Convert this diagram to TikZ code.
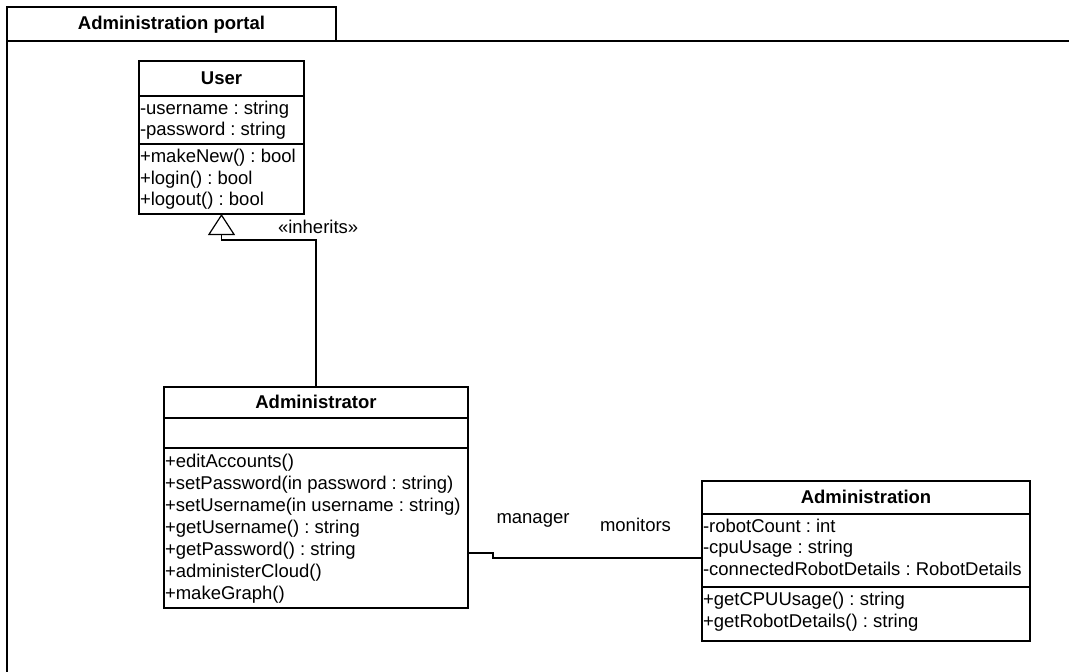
\documentclass[tikz,border=0pt]{standalone}
\usepackage{fontspec}
\setmainfont{Liberation Sans}
\usetikzlibrary{arrows.meta}
\frenchspacing

\begin{document}
\begin{tikzpicture}[x=0.5pt,y=-0.5pt,
  every node/.style={font=\fontsize{9.25}{10.9}\selectfont\frenchspacing, inner sep=0pt, outer sep=0pt},
  frameline/.style={line width=0.9pt},
  compartment/.style={draw, line width=0.8pt, rectangle, anchor=north west},
  classtitle/.style={anchor=base, font=\fontsize{9.25}{10.9}\selectfont\bfseries},
  member/.style={anchor=base west},
  connector/.style={line width=0.6pt},
  inherit/.style={connector, -{Triangle[open, length=10.5pt, width=13.5pt, line width=0.6pt]}},
  assoclabel/.style={anchor=base}
]
\useasboundingbox (0,0) rectangle (1069,671);

% package frame with its name tab
\node[draw, frameline, anchor=north west, minimum width=164.5pt, minimum height=17pt] (tab) at (7,7) {};
\node[classtitle] (tab-label) at (171.5,29) {Administration portal};
\draw[frameline] (7,680) -- (7,41) -- (1080,41);

% class User
\node[compartment, minimum width=82.5pt, minimum height=17.5pt] (user-name) at (139,61) {};
\node[compartment, minimum width=82.5pt, minimum height=24pt] (user-attrs) at (139,96) {};
\node[compartment, minimum width=82.5pt, minimum height=35pt] (user-ops) at (139,144) {};
\node[classtitle] (user-t) at (221.5,84.5) {User};
\node[member] (user-a1) at (140,114) {-username : string};
\node[member] (user-a2) at (140,135.8) {-password : string};
\node[member] (user-o1) at (140,162.3) {+makeNew() : bool};
\node[member] (user-o2) at (140,184.1) {+login() : bool};
\node[member] (user-o3) at (140,205.9) {+logout() : bool};

% class Administrator
\node[compartment, minimum width=152pt, minimum height=15.5pt] (admin-name) at (164,387) {};
\node[compartment, minimum width=152pt, minimum height=15pt] (admin-attrs) at (164,418) {};
\node[compartment, minimum width=152pt, minimum height=80pt] (admin-ops) at (164,448) {};
\node[classtitle] (admin-t) at (316,408.5) {Administrator};
\node[member] (admin-o1) at (165,467.5) {+editAccounts()};
\node[member] (admin-o2) at (165,489.4) {+setPassword(in password : string)};
\node[member] (admin-o3) at (165,511.4) {+setUsername(in username : string)};
\node[member] (admin-o4) at (165,533.3) {+getUsername() : string};
\node[member] (admin-o5) at (165,555.3) {+getPassword() : string};
\node[member] (admin-o6) at (165,577.2) {+administerCloud()};
\node[member] (admin-o7) at (165,599.2) {+makeGraph()};

% class Administration
\node[compartment, minimum width=164pt, minimum height=16.5pt] (adm-name) at (702,481) {};
\node[compartment, minimum width=164pt, minimum height=36.5pt] (adm-attrs) at (702,514) {};
\node[compartment, minimum width=164pt, minimum height=27pt] (adm-ops) at (702,587) {};
\node[classtitle] (adm-t) at (866,503.5) {Administration};
\node[member] (adm-a1) at (703,532) {-robotCount : int};
\node[member] (adm-a2) at (703,553.8) {-cpuUsage : string};
\node[member] (adm-a3) at (703,575.6) {-connectedRobotDetails : RobotDetails};
\node[member] (adm-o1) at (703,605.5) {+getCPUUsage() : string};
\node[member] (adm-o2) at (703,627.3) {+getRobotDetails() : string};

% generalisation Administrator -> User
\coordinate (inh-turn) at (316,240);
\draw[inherit] (admin-name.north) -- (inh-turn) -| (user-ops.south);
\node[anchor=base west] (inh-label) at (278,233) {«inherits»};

% association Administrator -- Administration
\coordinate (as-1) at (493,553);
\coordinate (as-2) at (493,558);
\draw[connector] (admin-ops.east |- as-1) -- (as-1) -- (as-2) -- (as-2 -| adm-attrs.west);
\node[assoclabel] (as-manager) at (533,523) {manager};
\node[assoclabel] (as-monitors) at (635.5,531.7) {monitors};
\end{tikzpicture}
\end{document}
